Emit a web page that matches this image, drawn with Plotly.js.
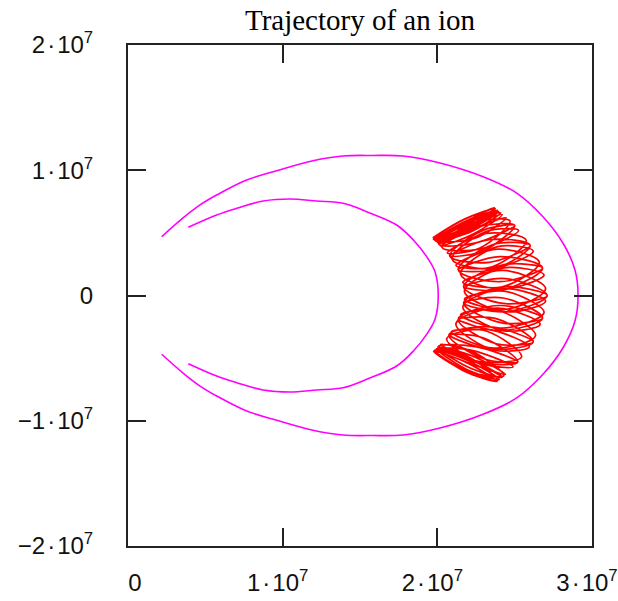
<!DOCTYPE html>
<html>
<head>
<meta charset="utf-8">
<script src="https://cdn.plot.ly/plotly-3.0.1.min.js"></script>
<style>html,body{margin:0;padding:0;background:#fff;}#chart{width:618px;height:601px;}</style>
</head>
<body>
<div id="chart"></div>
<script>
// values in units of 10^6
const UNIT = 1e6;

// outer magenta boundary
const outerX = [2.18, 3.56, 4.66, 5.73, 7.67, 9.61, 11.96, 13.9, 15.8, 17.78, 20.17, 22.96, 25.13, 26.83, 28.12, 28.9, 29.1,
  28.9, 28.12, 26.83, 25.13, 22.96, 20.17, 17.78, 15.8, 13.9, 11.96, 9.61, 7.67, 5.73, 4.66, 3.56, 2.18];
const outerY = [4.69, 6.19, 7.23, 8.02, 9.22, 9.96, 10.76, 11.14, 11.18, 11.14, 10.58, 9.48, 8.18, 6.29, 4.19, 2.04, 0,
  -2.04, -4.19, -6.29, -8.18, -9.48, -10.58, -11.14, -11.18, -11.14, -10.76, -9.96, -9.22, -8.02, -7.23, -6.19, -4.69];

// inner magenta boundary
const innerX = [3.90, 5.73, 7.03, 8.75, 10.47, 12.2, 13.92, 15.43, 17.37, 18.45, 19.31, 19.85, 20.06,
  19.85, 19.31, 18.45, 17.37, 15.43, 13.92, 12.2, 10.47, 8.75, 7.03, 5.73, 3.90];
const innerY = [5.45, 6.43, 6.96, 7.54, 7.70, 7.54, 7.36, 6.69, 5.63, 4.43, 3.10, 1.90, 0,
  -1.90, -3.10, -4.43, -5.63, -6.69, -7.36, -7.54, -7.70, -7.54, -6.96, -6.43, -5.45];

// red ion trajectory
const ionX = [
  19.7,21.75,23.75,21.8, 19.8,21.85,23.9,21.9, 19.9,22.0,24.1,22.05,
  19.95,22.2,24.7,22.75, 20.65,23.15,25.75,23.55, 21.2,23.9,26.6,24.2, 21.65,24.3,27.0,24.45,
  21.75,24.3,26.9,24.2, 21.5,23.9,26.35,23.65, 20.9,23.2,25.45,22.8, 20.2,22.3,24.3,21.8,
  19.75,21.8,23.85,21.75, 19.85,21.9,24.0,21.9, 19.95,22.0,24.2,22.05,
  20.05,22.55,25.2,23.0, 20.75,23.45,26.2,23.8, 21.35,24.05,26.8,24.25, 21.7,24.4,27.1,24.4,
  21.7,24.25,26.8,24.05, 21.35,23.7,26.0,23.35, 20.8,22.95,25.0,22.5, 20.1,21.95,23.7,21.8,
  19.75,21.7,23.65,21.75, 19.85,21.9,23.95,21.95,
  20.1,22.5,25.0,22.95, 20.8,23.35,26.0,23.7, 21.35,24.05,26.8,24.25, 21.7,24.4,27.1,24.4,
  21.7,24.25,26.8,24.05, 21.35,23.8,26.2,23.45, 20.75,23.0,25.2,22.55, 20.05,22.1,23.9,21.8,
  19.8,21.95,24.15,22.05, 20.1,22.2,24.4,22.3, 20.0,
  22.3,24.9,22.8, 20.6,23.2,25.95,23.65, 21.2,23.9,26.65,24.2, 21.65,24.3,27.0,24.45,
  21.75,24.3,26.9,24.2, 21.5,23.9,26.2,23.55, 20.95,23.15,25.25,22.75, 20.3,22.2,24.0,21.7,
  20.0,22.1,24.2,22.15, 20.2,22.35,24.45,22.4, 19.9,21.95,24.05,22.0, 19.8
];
const ionY = [
  4.6,6.1,6.95,5.4, 4.45,5.95,6.8,5.25, 4.35,5.85,6.6,5.05,
  4.3,5.8,5.95,3.8, 3.4,4.95,4.4,2.3, 2.4,3.7,2.65,0.7, 1.05,2.0,0.55,-1.1,
  -0.3,0.35,-1.35,-2.6, -1.55,-1.2,-3.2,-4.2, -2.9,-2.85,-4.9,-5.3, -3.9,-4.5,-6.4,-6.0,
  -4.45,-5.3,-6.85,-6.05, -4.35,-5.15,-6.7,-5.9, -4.25,-5.0,-6.5,-5.75,
  -4.1,-4.1,-5.3,-5.05, -3.15,-2.5,-3.7,-3.85, -1.9,-0.8,-1.8,-2.2, -0.6,0.7,0,-0.65,
  0.7,2.45,2.2,1.1, 2.05,4.1,4.0,2.65, 3.15,5.2,5.6,4.2, 4.1,5.95,7.0,5.3,
  4.5,6.05,6.9,5.35, 4.4,5.9,6.7,5.15,
  4.1,5.45,5.6,3.55, 3.15,4.45,4.0,2.1, 2.05,3.1,2.2,0.45, 0.7,1.35,0,-1.3,
  -0.6,-0.2,-1.8,-2.8, -1.9,-1.85,-3.7,-4.3, -3.15,-3.4,-5.3,-5.35, -4.1,-4.95,-6.8,-5.95,
  -4.4,-5.0,-6.55,-5.75, -4.2,-4.8,-6.3,-5.5, -4.3,
  -4.4,-5.7,-5.4, -3.45,-2.7,-4.1,-4.35, -2.25,-1.0,-2.3,-2.8, -0.9,0.55,-0.45,-1.3,
  0.35,2.2,1.65,0.5, 1.7,3.9,3.55,2.15, 2.9,5.1,5.2,3.7, 3.85,5.9,6.65,5.4,
  4.2,5.6,6.45,4.8, 3.95,5.35,6.2,4.55, 4.4,5.8,6.6,5.0, 4.55
];

const xTickVals = [0, 1e7, 2e7, 3e7];
const xTickText = ["\u20030", "1\u200a·\u200a10<sup>7</sup>", "2\u200a·\u200a10<sup>7</sup>", "3\u200a·\u200a10<sup>7</sup>"];
const yTickVals = [-2e7, -1e7, 0, 1e7, 2e7];
const yTickText = ["\u22122\u200a·\u200a10<sup>7</sup>", "\u22121\u200a·\u200a10<sup>7</sup>", "0", "1\u200a·\u200a10<sup>7</sup>", "2\u200a·\u200a10<sup>7</sup>"];
const chartTitle = "Trajectory of an ion";

const sc = a => a.map(v => v * UNIT);

const traces = [
  {x: sc(outerX), y: sc(outerY), mode: 'lines', line: {color: 'rgb(255,0,255)', width: 1.6, shape: 'spline'}, hoverinfo: 'skip'},
  {x: sc(innerX), y: sc(innerY), mode: 'lines', line: {color: 'rgb(255,0,255)', width: 1.6, shape: 'spline'}, hoverinfo: 'skip'},
  {x: sc(ionX), y: sc(ionY), mode: 'lines', line: {color: 'rgb(255,0,0)', width: 1.7, shape: 'spline', smoothing: 1}, hoverinfo: 'skip'}
];

const axisCommon = {
  showgrid: false, zeroline: false, showline: true, mirror: 'ticks',
  linecolor: '#222', linewidth: 2, ticks: 'inside', ticklen: 18, tickwidth: 2, tickcolor: '#222',
  ticklabeloverflow: 'allow',
  tickfont: {family: 'Liberation Sans, Arial, sans-serif', size: 24, color: '#111'}
};

const layout = {
  width: 618, height: 601,
  margin: {l: 128, r: 26, t: 45, b: 55, pad: 0},
  paper_bgcolor: '#fff', plot_bgcolor: '#fff',
  showlegend: false,
  title: {text: chartTitle, font: {family: 'Liberation Serif, Times New Roman, serif', size: 29, color: '#000'},
          x: 0.5, xref: 'paper', y: 0.967, yref: 'container', yanchor: 'middle'},
  xaxis: Object.assign({}, axisCommon, {range: [0, 3e7], tickmode: 'array', tickvals: xTickVals, ticktext: xTickText, ticklabelstandoff: 14, ticklabelshift: -5}),
  yaxis: Object.assign({}, axisCommon, {range: [-2e7, 2e7], tickmode: 'array', tickvals: yTickVals, ticktext: yTickText, ticklabelstandoff: 28})
};

Plotly.newPlot('chart', traces, layout, {displayModeBar: false, staticPlot: true});
</script>
</body>
</html>
